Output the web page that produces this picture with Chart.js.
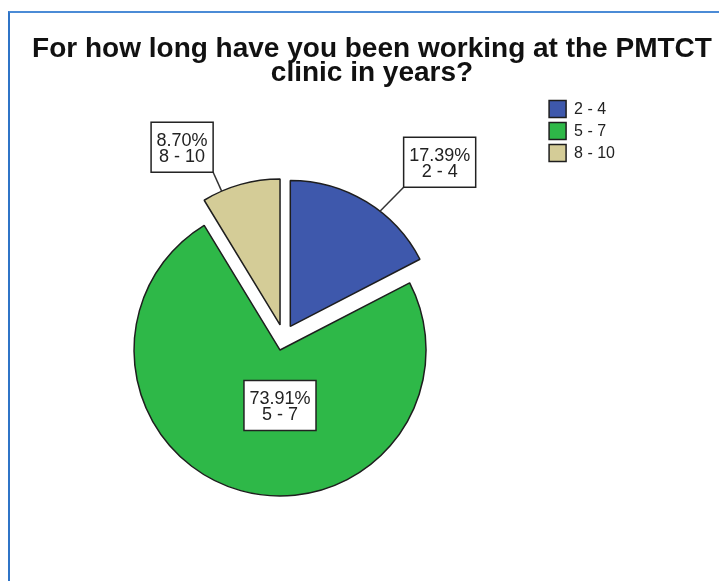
<!DOCTYPE html>
<html>
<head>
<meta charset="utf-8">
<script src="https://cdn.jsdelivr.net/npm/chart.js@4.4.1/dist/chart.umd.min.js"></script>
<style>
    html, body { margin: 0; padding: 0; background: #fff; overflow: hidden; }
    #wrap { position: relative; width: 719px; height: 581px; }
    #frame {
        position: absolute; left: 8px; top: 11px; right: -10px; bottom: -10px;
        border-top: 2px solid #4b8bd6; border-left: 2px solid #2f74c7;
    }
    #title {
        position: absolute; left: 0; top: 36px; width: 744px;
        text-align: center; white-space: nowrap; color: #111;
        font: bold 28px "Liberation Sans", Arial, sans-serif; line-height: 24px;
    }
    #chart { position: absolute; left: 0; top: 0; }
</style>
</head>
<body>
<div id="wrap">
    <div id="frame"></div>
    <canvas id="chart" width="719" height="581"></canvas>
    <div id="title">For how long have you been working at the PMTCT<br>clinic in years?</div>
</div>
<script>
// years worked at the clinic (n = 23)
const categories = ['2 - 4', '5 - 7', '8 - 10'];
const counts = [4, 17, 2];
const sliceColors = ['#3e58ac', '#2eb848', '#d4cc97'];

// label placement: turn (deg) from slice middle, distance in radii
const labelTurn = [11, -15.6, -13.2];
const labelDist = [1.52, 0.38, 1.39];

const EXPLODE = 13;
const RADIUS = 146;
const FONT = '"Liberation Sans", Arial, sans-serif';

// push every slice out along its middle angle
const explodePlugin = {
    id: 'explode',
    afterDatasetsUpdate(chart) {
        chart.getDatasetMeta(0).data.forEach(arc => {
            const mid = (arc.startAngle + arc.endAngle) / 2;
            arc.x += Math.cos(mid) * EXPLODE;
            arc.y += Math.sin(mid) * EXPLODE;
        });
    }
};

// boxed "percent / category" labels, with leader lines for the outside ones
const labelPlugin = {
    id: 'sliceLabels',
    afterDatasetsDraw(chart) {
        const ctx = chart.ctx;
        const arcs = chart.getDatasetMeta(0).data;
        const total = counts.reduce((s, v) => s + v, 0);
        ctx.save();
        ctx.font = `18px ${FONT}`;
        arcs.forEach((arc, i) => {
            const mid = (arc.startAngle + arc.endAngle) / 2;
            const turn = labelTurn[i] * Math.PI / 180;
            const a = mid + turn;
            const r = arc.outerRadius;
            const lx = arc.x + Math.cos(a) * r * labelDist[i];
            const ly = arc.y + Math.sin(a) * r * labelDist[i];
            const lines = [(counts[i] / total * 100).toFixed(2) + '%', categories[i]];
            const w = Math.max(...lines.map(t => ctx.measureText(t).width)) + 11;
            const h = 50;
            const bx = lx - w / 2;
            const by = ly - h / 2;

            if (labelDist[i] > 1) {
                const ea = mid + turn * 0.6;
                const ex = arc.x + Math.cos(ea) * r;
                const ey = arc.y + Math.sin(ea) * r;
                const kx = ex < lx ? bx : bx + w;
                const ky = ey < ly ? by : by + h;
                ctx.strokeStyle = '#333';
                ctx.lineWidth = 1.5;
                ctx.beginPath();
                ctx.moveTo(ex, ey);
                ctx.lineTo(kx, ky);
                ctx.stroke();
            }

            ctx.fillStyle = '#fff';
            ctx.fillRect(bx, by, w, h);
            ctx.strokeStyle = '#222';
            ctx.lineWidth = 1.5;
            ctx.strokeRect(bx, by, w, h);

            ctx.fillStyle = '#222';
            ctx.textAlign = 'center';
            ctx.textBaseline = 'alphabetic';
            ctx.fillText(lines[0], lx, ly - 1.5);
            ctx.fillText(lines[1], lx, ly + 15);
        });
        ctx.restore();
    }
};

new Chart(document.getElementById('chart'), {
    type: 'pie',
    data: {
        labels: categories,
        datasets: [{
            data: counts,
            backgroundColor: sliceColors,
            borderColor: '#1e1e1e',
            borderWidth: 1.5,
            radius: RADIUS
        }]
    },
    options: {
        responsive: false,
        animation: false,
        layout: { padding: { left: 23, right: 94, top: 95.6, bottom: 1.6 } },
        plugins: {
            title: { display: false },
            tooltip: { enabled: false },
            legend: {
                position: 'right',
                align: 'start',
                fullSize: false,
                labels: {
                    boxWidth: 17,
                    boxHeight: 17,
                    padding: 5,
                    color: '#222',
                    font: { family: FONT, size: 16 }
                }
            }
        }
    },
    plugins: [explodePlugin, labelPlugin]
});
</script>
</body>
</html>
